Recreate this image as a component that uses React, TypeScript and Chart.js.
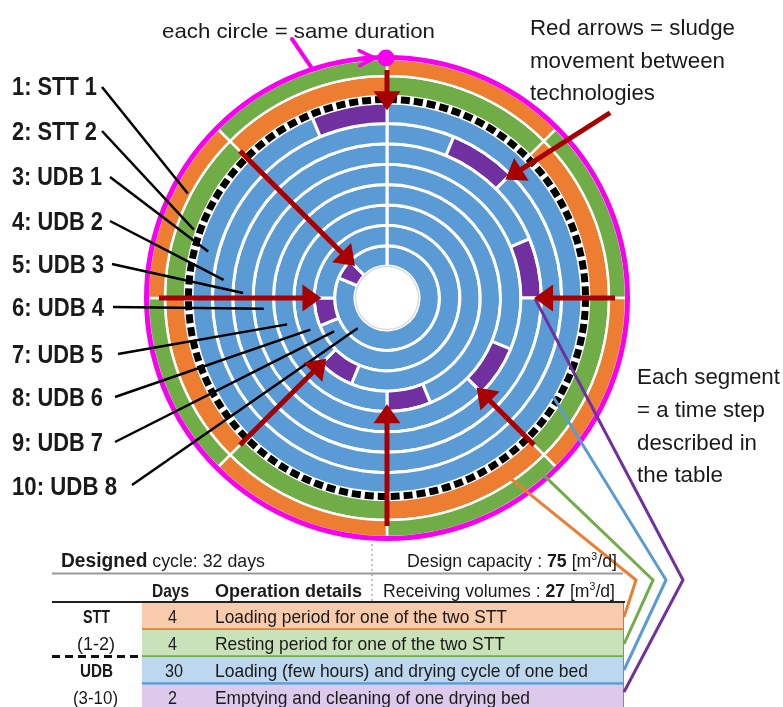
import React, { useEffect, useLayoutEffect, useRef } from 'react';
import { Chart, registerables } from 'chart.js';

Chart.register(...registerables);

// ---------------- data ----------------
const cycleDays = 32;
const phaseColors = ['#ED7D31', '#70AD47', '#5B9BD5', '#7030A0'];
const phaseLightColors = ['#F8CBAD', '#C9E2B9', '#BDD7EE', '#DCC9EC'];
const phaseDays = ['4', '4', '30', '2'];
const phaseDetails = [
  'Loading period for one of the two STT',
  'Resting period for one of the two STT',
  'Loading (few hours) and drying cycle of one bed',
  'Emptying and cleaning of one drying bed',
];
const groupNames = ['STT', '(1-2)', 'UDB', '(3-10)'];

const ringLabels = [
  '1: STT 1', '2: STT 2', '3: UDB 1', '4: UDB 2', '5: UDB 3',
  '6: UDB 4', '7: UDB 5', '8: UDB 6', '9: UDB 7', '10: UDB 8',
];

// segment lengths (days) and phase index of each segment, per ring
const stt1Days = [4, 4, 4, 4, 4, 4, 4, 4];
const stt1Phases = [0, 1, 0, 1, 0, 1, 0, 1];
const stt2Days = [4, 4, 4, 4, 4, 4, 4, 4];
const stt2Phases = [1, 0, 1, 0, 1, 0, 1, 0];
const udb1Days = [30, 2];
const udb1Phases = [2, 3];
const udb2Days = [2, 2, 28];
const udb3Days = [6, 2, 24];
const udb4Days = [10, 2, 20];
const udb5Days = [14, 2, 16];
const udb6Days = [18, 2, 12];
const udb7Days = [22, 2, 8];
const udb8Days = [26, 2, 4];
const udbPhases = [2, 3, 2];

// sludge transfers (red arrows): day, source ring, target ring
const transferDays = [0, 4, 8, 12, 16, 20, 24, 28];
const transferFrom = [0, 1, 0, 1, 0, 1, 0, 1];
const transferTo = [2, 3, 4, 5, 6, 7, 8, 9];

// ---------------- styling / annotation geometry ----------------
const FONT = '"Liberation Sans", Arial, Helvetica, sans-serif';
const MAGENTA = '#F700F0';
const DARKRED = '#A80000';

const leaderStarts = [[102, 87], [102, 131], [110, 177], [110, 221], [112, 264], [113, 307], [118, 354], [115, 397], [115, 442], [132, 485]];
const leaderAngles = [297.7, 289.5, 284.6, 276.3, 272, 265, 255.2, 247.6, 237.8, 224.1];

const rowTops = [603, 630, 657, 685];
const rowBottoms = [629, 656, 683, 707];

function datasetIndexOfRing(ring: number) {
  return ring < 2 ? ring : ring + 1;
}

function drawArrow(ctx: CanvasRenderingContext2D, x1: number, y1: number, x2: number, y2: number, color: string, w: number, hl: number, hw: number) {
  const a = Math.atan2(y2 - y1, x2 - x1);
  const bx = x2 - hl * Math.cos(a);
  const by = y2 - hl * Math.sin(a);
  ctx.strokeStyle = color;
  ctx.lineWidth = w;
  ctx.lineCap = 'butt';
  ctx.beginPath();
  ctx.moveTo(x1, y1);
  ctx.lineTo(bx + Math.cos(a), by + Math.sin(a));
  ctx.stroke();
  ctx.fillStyle = color;
  ctx.beginPath();
  ctx.moveTo(x2, y2);
  ctx.lineTo(bx + (hw / 2) * Math.sin(a), by - (hw / 2) * Math.cos(a));
  ctx.lineTo(bx - (hw / 2) * Math.sin(a), by + (hw / 2) * Math.cos(a));
  ctx.closePath();
  ctx.fill();
}

const overlayPlugin = {
  id: 'overlay',
  afterDraw(chart: any) {
    const ctx: CanvasRenderingContext2D = chart.ctx;
    const geom = (ring: number) => {
      const arc: any = chart.getDatasetMeta(datasetIndexOfRing(ring)).data[0];
      return { x: arc.x, y: arc.y, inner: arc.innerRadius, outer: arc.outerRadius, mid: (arc.innerRadius + arc.outerRadius) / 2 };
    };
    const g0 = geom(0);
    const cx = g0.x;
    const cy = g0.y;
    const P = (r: number, deg: number): [number, number] => {
      const a = (deg * Math.PI) / 180;
      return [cx + r * Math.sin(a), cy - r * Math.cos(a)];
    };
    const dayToDeg = (d: number) => (d / cycleDays) * 360;

    ctx.save();

    // ----- table backgrounds & rules -----
    for (let i = 0; i < 4; i++) {
      ctx.fillStyle = phaseLightColors[i];
      ctx.fillRect(142, rowTops[i], 481, rowBottoms[i] - rowTops[i] + 1);
      if (i < 3) {
        ctx.strokeStyle = phaseColors[i];
        ctx.lineWidth = 2.5;
        ctx.beginPath();
        ctx.moveTo(142, rowBottoms[i] + 0.5);
        ctx.lineTo(623, rowBottoms[i] + 0.5);
        ctx.stroke();
      }
    }
    ctx.strokeStyle = '#8a8a8a';
    ctx.lineWidth = 1;
    ctx.beginPath();
    ctx.moveTo(623.5, 603);
    ctx.lineTo(623.5, 707);
    ctx.stroke();

    ctx.strokeStyle = '#9a9a9a';
    ctx.lineWidth = 2;
    ctx.beginPath();
    ctx.moveTo(52, 573.5);
    ctx.lineTo(623, 573.5);
    ctx.stroke();

    ctx.strokeStyle = '#222';
    ctx.lineWidth = 2;
    ctx.beginPath();
    ctx.moveTo(52, 602);
    ctx.lineTo(625, 602);
    ctx.stroke();

    ctx.strokeStyle = '#b0b0b0';
    ctx.lineWidth = 1.5;
    ctx.setLineDash([2, 3]);
    ctx.beginPath();
    ctx.moveTo(372, 544);
    ctx.lineTo(372, 601);
    ctx.stroke();

    ctx.strokeStyle = '#111';
    ctx.lineWidth = 3;
    ctx.setLineDash([8, 5]);
    ctx.beginPath();
    ctx.moveTo(52, 656.5);
    ctx.lineTo(142, 656.5);
    ctx.stroke();
    ctx.setLineDash([]);

    // ----- dashed separator ring between STT and UDB -----
    const sep: any = chart.getDatasetMeta(2).data[0];
    const sr = (sep.innerRadius + sep.outerRadius) / 2;
    const sw = sep.outerRadius - sep.innerRadius;
    ctx.strokeStyle = '#fff';
    ctx.lineWidth = sw;
    ctx.beginPath();
    ctx.arc(cx, cy, sr, 0, Math.PI * 2);
    ctx.stroke();
    ctx.strokeStyle = '#000';
    ctx.setLineDash([9, 4]);
    ctx.beginPath();
    ctx.arc(cx, cy, sr, 0, Math.PI * 2);
    ctx.stroke();
    ctx.setLineDash([]);

    // hole outline
    const hole = geom(9).inner;
    ctx.strokeStyle = '#dcdcdc';
    ctx.lineWidth = 1.5;
    ctx.beginPath();
    ctx.arc(cx, cy, hole - 0.5, 0, Math.PI * 2);
    ctx.stroke();

    // magenta outer circle
    const mr = g0.outer + 1.5;
    ctx.strokeStyle = MAGENTA;
    ctx.lineWidth = 5;
    ctx.beginPath();
    ctx.arc(cx, cy, mr, 0, Math.PI * 2);
    ctx.stroke();

    // ----- colored lines from table rows into the chart -----
    const colorLines: [number, number, number, number, number][] = [
      // deg, r, vertexX, endY, phase
      [145.5, geom(1).outer - 2, 636, 617, 0],
      [138.6, geom(0).mid + 2, 653, 644, 1],
      [120.5, geom(2).outer - 3, 666, 670, 2],
      [90.3, geom(4).mid + 4, 683, 692, 3],
    ];
    colorLines.forEach(([deg, r, vx, ey, ph]) => {
      const [sx, sy] = P(r, deg);
      ctx.strokeStyle = phaseColors[ph];
      ctx.lineWidth = 3;
      ctx.lineJoin = 'miter';
      ctx.beginPath();
      ctx.moveTo(sx, sy);
      ctx.lineTo(vx, 580);
      ctx.lineTo(624, ey);
      ctx.stroke();
    });

    // ----- label leader lines -----
    ctx.strokeStyle = '#000';
    ctx.lineWidth = 2.5;
    ctx.lineCap = 'butt';
    ringLabels.forEach((_, i) => {
      const gg = geom(i);
      const r = i < 2 ? gg.inner + 3 : gg.mid;
      const [ex, ey] = P(r, leaderAngles[i]);
      ctx.beginPath();
      ctx.moveTo(leaderStarts[i][0], leaderStarts[i][1]);
      ctx.lineTo(ex, ey);
      ctx.stroke();
    });

    // ----- red arrows: sludge transfers -----
    transferDays.forEach((d, i) => {
      const deg = dayToDeg(d);
      const src = geom(transferFrom[i]);
      const dst = geom(transferTo[i]);
      let start = P(src.inner + 6, deg);
      if (i === 1) start = P(290, 50.3);
      const tip = P(dst.mid + 3, deg);
      drawArrow(ctx, start[0], start[1], tip[0], tip[1], DARKRED, 5, 19, 27);
    });

    // ----- magenta annotation: arrowhead, dot, pointer -----
    const tipDeg = -3;
    const [tx, ty] = P(mr, tipDeg);
    const ta = (tipDeg * Math.PI) / 180;
    const tan = [Math.cos(ta), Math.sin(ta)];
    const nor = [Math.sin(ta), -Math.cos(ta)];
    ctx.strokeStyle = MAGENTA;
    ctx.lineWidth = 3.5;
    ctx.lineCap = 'round';
    ctx.beginPath();
    ctx.moveTo(tx - 15 * tan[0] + 8 * nor[0], ty - 15 * tan[1] + 8 * nor[1]);
    ctx.lineTo(tx, ty);
    ctx.lineTo(tx - 15 * tan[0] - 7 * nor[0], ty - 15 * tan[1] - 7 * nor[1]);
    ctx.stroke();
    ctx.lineWidth = 4;
    ctx.beginPath();
    ctx.moveTo(292, 39);
    const [px, py] = P(mr, -18);
    ctx.lineTo(px, py);
    ctx.stroke();
    const [dx, dy] = P(mr - 0.5, 0);
    ctx.fillStyle = MAGENTA;
    ctx.beginPath();
    ctx.arc(dx - 1, dy, 8.5, 0, Math.PI * 2);
    ctx.fill();

    ctx.restore();
  },
};

// ---------------- text helpers ----------------
type TProps = { x: number; y: number; w: number; size: number; bold?: boolean; children: React.ReactNode };

function T({ x, y, w, size, bold, children }: TProps) {
  const ref = useRef<HTMLDivElement>(null);
  useLayoutEffect(() => {
    const el = ref.current;
    if (!el) return;
    el.style.transform = 'translateY(-50%)';
    const natural = el.getBoundingClientRect().width;
    const s = natural > 0 ? w / natural : 1;
    el.style.transform = `translateY(-50%) scaleX(${s})`;
  }, [w]);
  return (
    <div
      ref={ref}
      style={{
        position: 'absolute',
        left: x,
        top: y,
        fontSize: size,
        fontWeight: bold ? 700 : 400,
        lineHeight: 1,
        whiteSpace: 'nowrap',
        fontFamily: FONT,
        color: '#1a1a1a',
        transformOrigin: '0 50%',
        transform: 'translateY(-50%)',
      }}
    >
      {children}
    </div>
  );
}

const Sup = ({ children }: { children: React.ReactNode }) => (
  <span style={{ fontSize: '0.6em', position: 'relative', top: '-0.6em' }}>{children}</span>
);

const labelY = [86, 131, 176, 221, 264, 307, 354, 397, 442, 486];
const labelW = [85, 85, 90, 91, 92, 92, 91, 91, 91, 105];
const rowY = [616, 643, 670, 697];
const dayX = [168, 168, 165, 168];
const dayW = [9, 9, 18, 9];
const detailW = [292, 290, 373, 315];
const groupX = [83, 77, 80, 73];
const groupW = [27, 38, 33, 45];

export default function App() {
  const canvasRef = useRef<HTMLCanvasElement>(null);

  useEffect(() => {
    const canvas = canvasRef.current;
    if (!canvas) return;
    const mk = (label: string, days: number[], phases: number[], weight: number, bw: number) => ({
      label,
      data: days,
      backgroundColor: phases.map((p) => phaseColors[p]),
      borderColor: '#ffffff',
      borderWidth: bw,
      weight,
    });
    const udbW = 20.375;
    const datasets: any[] = [
      mk(ringLabels[0], stt1Days, stt1Phases, 17, 2.5),
      mk(ringLabels[1], stt2Days, stt2Phases, 20, 2.5),
      { label: 'separator', data: [cycleDays], backgroundColor: 'rgba(0,0,0,0)', borderWidth: 0, weight: 7 },
      mk(ringLabels[2], udb1Days, udb1Phases, udbW, 3),
      mk(ringLabels[3], udb2Days, udbPhases, udbW, 3),
      mk(ringLabels[4], udb3Days, udbPhases, udbW, 3),
      mk(ringLabels[5], udb4Days, udbPhases, udbW, 3),
      mk(ringLabels[6], udb5Days, udbPhases, udbW, 3),
      mk(ringLabels[7], udb6Days, udbPhases, udbW, 3),
      mk(ringLabels[8], udb7Days, udbPhases, udbW, 3),
      mk(ringLabels[9], udb8Days, udbPhases, udbW, 3),
    ];
    const chart = new Chart(canvas, {
      type: 'doughnut',
      data: { labels: [], datasets },
      options: {
        responsive: false,
        animation: false,
        events: [],
        layout: { padding: { left: 148, right: 157, top: 59, bottom: 170 } },
        radius: 239,
        cutout: `${(32 / 239) * 100}%`,
        plugins: { legend: { display: false }, tooltip: { enabled: false }, title: { display: false } },
      } as any,
      plugins: [overlayPlugin],
    });
    return () => chart.destroy();
  }, []);

  return (
    <div style={{ position: 'absolute', left: 0, top: 0, width: 783, height: 707, overflow: 'hidden', background: '#fff' }}>
      <canvas ref={canvasRef} width={783} height={707} style={{ position: 'absolute', left: 0, top: 0, width: 783, height: 707 }} />

      {ringLabels.map((l, i) => (
        <T key={l} x={12} y={labelY[i]} w={labelW[i]} size={25} bold>{l}</T>
      ))}

      <T x={162} y={30} w={273} size={21}>each circle = same duration</T>

      <T x={530} y={28} w={205} size={22}>Red arrows = sludge</T>
      <T x={530} y={61} w={195} size={22}>movement between</T>
      <T x={530} y={93} w={125} size={22}>technologies</T>

      <T x={637} y={377} w={143} size={22}>Each segment</T>
      <T x={637} y={410} w={128} size={22}>= a time step</T>
      <T x={637} y={443} w={120} size={22}>described in</T>
      <T x={637} y={475} w={86} size={22}>the table</T>

      <T x={61} y={560} w={204} size={19}><b style={{ fontSize: '1.08em' }}>Designed</b> cycle: {cycleDays} days</T>
      <T x={407} y={560} w={210} size={19}>Design capacity : <b>75</b> [m<Sup>3</Sup>/d]</T>
      <T x={152} y={590} w={37} size={19} bold>Days</T>
      <T x={215} y={590} w={147} size={19} bold>Operation details</T>
      <T x={383} y={590} w={232} size={19}>Receiving volumes : <b>27</b> [m<Sup>3</Sup>/d]</T>

      {phaseDetails.map((d, i) => (
        <React.Fragment key={d}>
          <T x={dayX[i]} y={rowY[i]} w={dayW[i]} size={19}>{phaseDays[i]}</T>
          <T x={215} y={rowY[i]} w={detailW[i]} size={19}>{d}</T>
          <T x={groupX[i]} y={rowY[i]} w={groupW[i]} size={19} bold={i % 2 === 0}>{groupNames[i]}</T>
        </React.Fragment>
      ))}
    </div>
  );
}
